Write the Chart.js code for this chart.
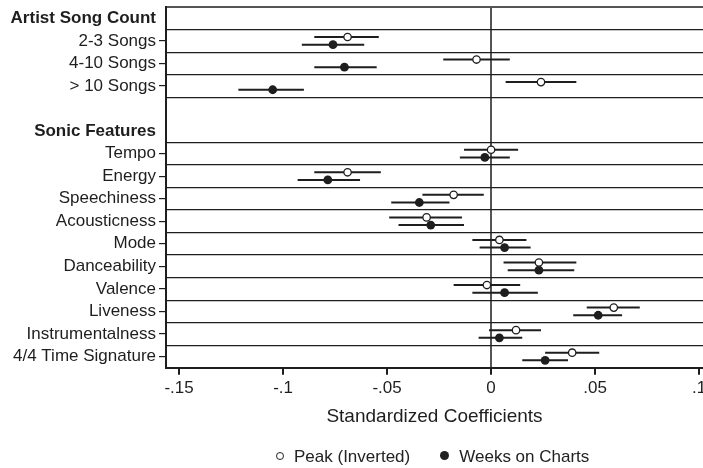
<!DOCTYPE html>
<html>
<head>
<meta charset="utf-8">
<script src="https://cdn.jsdelivr.net/npm/chart.js@4.4.1/dist/chart.umd.min.js"></script>
<style>
    html, body { margin: 0; padding: 0; background: #fff; }
    #wrap { position: relative; width: 703px; height: 468px; }
    #legend {
        position: absolute; top: 447px; left: 276px;
        font: 17px/19px "Liberation Sans", Arial, sans-serif; color: #222;
        display: flex; align-items: center; white-space: nowrap;
    }
    .dot { display: inline-block; border-radius: 50%; margin-right: 10px; position: relative; top: -1px; }
    .dot.open { width: 6px; height: 6px; border: 1.3px solid #222; background: #fff; }
    .dot.full { width: 9px; height: 9px; background: #222; margin-left: 30px; }
</style>
</head>
<body>
<div id="wrap">
    <canvas id="coefChart" width="703" height="468"></canvas>
    <div id="legend">
        <span class="dot open"></span><span>Peak (Inverted)</span>
        <span class="dot full"></span><span>Weeks on Charts</span>
    </div>
</div>
<script>
// --- Data ---
const rowLabels = ['Artist Song Count', '2-3 Songs', '4-10 Songs', '> 10 Songs', '', 'Sonic Features',
    'Tempo', 'Energy', 'Speechiness', 'Acousticness', 'Mode', 'Danceability', 'Valence',
    'Liveness', 'Instrumentalness', '4/4 Time Signature'];
const headerRows = [0, 5];

const peakCoef  = [null, -0.069, -0.007,  0.024, null, null,  0.000, -0.069, -0.018,  -0.031,  0.004, 0.023, -0.002, 0.059,  0.012, 0.039];
const peakLow   = [null, -0.085, -0.023,  0.007, null, null, -0.013, -0.085, -0.033,  -0.049, -0.009, 0.006, -0.018, 0.046, -0.001, 0.026];
const peakHigh  = [null, -0.054,  0.009,  0.041, null, null,  0.013, -0.053, -0.0035, -0.014,  0.017, 0.041,  0.014, 0.0715, 0.024, 0.052];

const weeksCoef = [null, -0.076, -0.0705, -0.105,  null, null, -0.003, -0.0785, -0.0345, -0.029,  0.0065, 0.023,  0.0065, 0.0515, 0.004, 0.026];
const weeksLow  = [null, -0.091, -0.085,  -0.1215, null, null, -0.015, -0.093,  -0.048,  -0.0445, -0.0055, 0.008, -0.009,  0.0395, -0.006, 0.015];
const weeksHigh = [null, -0.061, -0.055,  -0.090,  null, null,  0.009, -0.063,  -0.020,  -0.013,  0.019,  0.040,  0.0225, 0.063,  0.015, 0.037];

const xTicks = [-0.15, -0.1, -0.05, 0, 0.05, 0.1];
const xTickLabels = ['-.15', '-.1', '-.05', '0', '.05', '.1'];

// --- Helpers ---
const FONT = '"Liberation Sans", Arial, sans-serif';
const INK = '#1e1e1e';
const rowShift = 0.17;

const toPoints = (coef, shift) => coef
    .map((v, i) => v === null ? null : { x: v, y: i + shift })
    .filter(p => p !== null);

// each interval is a two-point segment, NaN point breaks the line
const toIntervals = (lo, hi, shift) => lo.flatMap((v, i) => v === null ? [] : [
    { x: v, y: i + shift }, { x: hi[i], y: i + shift }, { x: NaN, y: NaN }
]);

const yTickValues = [];
for (let v = -0.5; v <= rowLabels.length - 0.5; v += 0.5) yTickValues.push(v);

const isItemRow = (v) => Number.isInteger(v) && rowLabels[v] !== '' && !headerRows.includes(v);
const isSeparator = (v) => !Number.isInteger(v) && v !== 4.5 && v > -0.5 && v < rowLabels.length - 0.5;

const ctx = document.getElementById('coefChart').getContext('2d');
new Chart(ctx, {
    type: 'scatter',
    data: {
        datasets: [
            {
                label: 'Peak (Inverted)', data: toPoints(peakCoef, -rowShift), order: 0,
                pointRadius: 3.7, pointBorderWidth: 1.3, pointBorderColor: INK, pointBackgroundColor: '#fff'
            },
            {
                label: 'Weeks on Charts', data: toPoints(weeksCoef, rowShift), order: 0,
                pointRadius: 4.4, pointBorderWidth: 0, pointBackgroundColor: INK
            },
            {
                label: 'Peak CI', data: toIntervals(peakLow, peakHigh, -rowShift), order: 1,
                showLine: true, spanGaps: false, pointRadius: 0, borderColor: INK, borderWidth: 2
            },
            {
                label: 'Weeks CI', data: toIntervals(weeksLow, weeksHigh, rowShift), order: 1,
                showLine: true, spanGaps: false, pointRadius: 0, borderColor: INK, borderWidth: 2
            }
        ]
    },
    options: {
        responsive: false,
        animation: false,
        layout: { autoPadding: false, padding: { top: 7, right: 0, bottom: 40, left: 0 } },
        plugins: { legend: { display: false }, tooltip: { enabled: false } },
        scales: {
            x: {
                type: 'linear',
                min: -0.1563,
                max: 0.1019,
                afterBuildTicks: (axis) => { axis.ticks = xTicks.map(v => ({ value: v })); },
                afterFit: (axis) => { axis.paddingLeft = 0; axis.paddingRight = 0; },
                border: { display: true, color: INK, width: 2 },
                grid: {
                    color: (c) => c.tick && c.tick.value === 0 ? '#555' : 'transparent',
                    lineWidth: 2,
                    tickColor: INK,
                    tickLength: 7
                },
                ticks: {
                    callback: (value) => xTickLabels[xTicks.indexOf(value)],
                    color: INK,
                    font: { family: FONT, size: 17 },
                    padding: 3,
                    maxRotation: 0
                },
                title: {
                    display: true,
                    text: 'Standardized Coefficients',
                    color: INK,
                    font: { family: FONT, size: 19 },
                    padding: { top: 4, bottom: 0 }
                }
            },
            y: {
                type: 'linear',
                reverse: true,
                min: -0.5,
                max: rowLabels.length - 0.5,
                afterBuildTicks: (axis) => { axis.ticks = yTickValues.map(v => ({ value: v })); },
                afterFit: (axis) => { axis.width = 166; axis.paddingTop = 0; axis.paddingBottom = 0; },
                border: { display: true, color: INK, width: 2 },
                grid: {
                    color: (c) => {
                        const v = c.tick ? c.tick.value : null;
                        if (v === -0.5) return '#555';
                        return isSeparator(v) ? INK : 'transparent';
                    },
                    lineWidth: (c) => c.tick && c.tick.value === -0.5 ? 2 : 1.2,
                    tickColor: (c) => c.tick && isItemRow(c.tick.value) ? INK : 'transparent',
                    tickLength: 7
                },
                ticks: {
                    autoSkip: false,
                    callback: (value) => Number.isInteger(value) ? rowLabels[value] : '',
                    color: INK,
                    padding: 3,
                    font: (c) => ({
                        family: FONT,
                        size: 17,
                        weight: c.tick && headerRows.includes(c.tick.value) ? 'bold' : 'normal'
                    })
                }
            }
        }
    }
});
</script>
</body>
</html>
